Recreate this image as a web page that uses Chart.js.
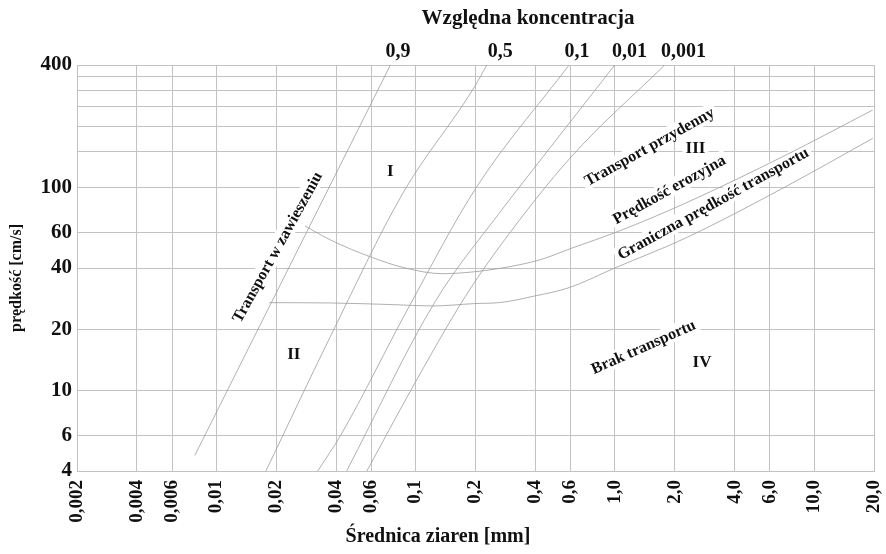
<!DOCTYPE html>
<html>
<head>
<meta charset="utf-8">
<script src="https://cdn.jsdelivr.net/npm/chart.js@4/dist/chart.umd.min.js"></script>
<style>
html, body { margin: 0; padding: 0; background: #fff; }
</style>
</head>
<body>
<canvas id="c" width="886" height="554"></canvas>
<script>
// tick positions and labels
const xTicks = [0.002, 0.004, 0.006, 0.01, 0.02, 0.04, 0.06, 0.1, 0.2, 0.4, 0.6, 1, 2, 4, 6, 10, 20];
const xTickLabels = ['0,002', '0,004', '0,006', '0,01', '0,02', '0,04', '0,06', '0,1', '0,2', '0,4', '0,6', '1,0', '2,0', '4,0', '6,0', '10,0', '20,0'];
const yTicks = [4, 6, 10, 20, 40, 60, 100, 150, 200, 250, 300, 350, 400];
const yTickLabels = ['4', '6', '10', '20', '40', '60', '100', '', '', '', '', '', '400'];

// relative concentration lines: grain diameter [mm] / velocity [cm/s]
const concLabels = ['0,9', '0,5', '0,1', '0,01', '0,001'];
const concLabelD = [0.0817, 0.266, 0.647, 1.185, 2.21];
const conc09D = [0.0078, 0.0748];
const conc09V = [4.77, 400];
const conc05D = [0.01775, 0.0374, 0.086, 0.196, 0.228];
const conc05V = [4, 18.4, 92.7, 308, 400];
const conc01D = [0.0323, 0.0421, 0.0926, 0.2, 0.59];
const conc01V = [4, 6, 25.7, 98.3, 400];
const conc001D = [0.0451, 0.1254, 0.272, 0.411, 1.0];
const conc001V = [4, 27.3, 77.7, 131, 400];
const conc0001D = [0.057, 0.0956, 0.178, 0.272, 0.6, 1.78];
const conc0001V = [4, 10.15, 29, 53, 140, 400];

// erosion velocity and limiting transport velocity
const erosionD = [0.0279, 0.0374, 0.0608, 0.0888, 0.1364, 0.196, 0.272, 0.421, 0.612, 1.047, 2.26, 7.12, 19.7];
const erosionV = [64.4, 55, 45, 40, 37.5, 38.3, 40, 43.9, 50.2, 60.7, 83.4, 143, 240];
const transportD = [0.01842, 0.0374, 0.0775, 0.121, 0.196, 0.272, 0.389, 0.59, 1.0, 2.26, 7.12, 19.7];
const transportV = [27, 26.9, 26.4, 26.0, 26.7, 27.1, 29, 32, 40, 56.1, 100, 174];

// region labels placed in data units
const areaLabels = [
    { text: 'Transport w zawieszeniu', d: 0.0202, v: 50.8, angle: -61, size: 16 },
    { text: 'I', d: 0.0747, v: 121, angle: 0, size: 17 },
    { text: 'II', d: 0.0245, v: 15.2, angle: 0, size: 17 },
    { text: 'III', d: 2.54, v: 156, angle: 0, size: 17 },
    { text: 'IV', d: 2.74, v: 13.9, angle: 0, size: 17 },
    { text: 'Transport przydenny', d: 1.49, v: 159, angle: -29, size: 16 },
    { text: 'Prędkość erozyjna', d: 1.87, v: 97.7, angle: -29, size: 16 },
    { text: 'Graniczna prędkość transportu', d: 3.11, v: 83.4, angle: -29, size: 16 },
    { text: 'Brak transportu', d: 1.39, v: 16.4, angle: -24, size: 16 }
];

const serif = "'Liberation Serif', 'Times New Roman', serif";
const curveColor = '#9c9c9c';
const gridColor = '#c2c2c2';

function series(label, ds, vs) {
    return {
        label,
        data: ds.map((d, i) => ({ x: d, y: vs[i] })),
        borderColor: curveColor,
        borderWidth: 0.8,
        pointRadius: 0,
        showLine: true,
        fill: false,
        cubicInterpolationMode: 'monotone'
    };
}

const textPlugin = {
    id: 'texts',
    beforeDatasetsDraw(chart) {
        const ctx = chart.ctx;
        const xs = chart.scales.x, ys = chart.scales.y;
        areaLabels.forEach(l => {
            const px = xs.getPixelForValue(l.d);
            const py = ys.getPixelForValue(l.v);
            ctx.save();
            ctx.translate(px, py);
            ctx.rotate(l.angle * Math.PI / 180);
            ctx.font = `bold ${l.size}px ${serif}`;
            const w = ctx.measureText(l.text).width;
            ctx.fillStyle = '#fff';
            ctx.fillRect(-w / 2 - 3, -l.size * 0.55, w + 6, l.size * 1.1);
            ctx.fillStyle = '#111';
            ctx.textAlign = 'center';
            ctx.textBaseline = 'middle';
            ctx.fillText(l.text, 0, 1);
            ctx.restore();
        });
    },
    afterDraw(chart) {
        const ctx = chart.ctx;
        const xs = chart.scales.x;
        ctx.save();
        ctx.fillStyle = '#111';
        ctx.textAlign = 'center';
        ctx.textBaseline = 'middle';
        ctx.font = `bold 21px ${serif}`;
        ctx.fillText('Względna koncentracja', 528, 19);
        ctx.font = `bold 20px ${serif}`;
        concLabels.forEach((t, i) => {
            ctx.fillText(t, xs.getPixelForValue(concLabelD[i]), 52);
        });
        ctx.fillText('Średnica ziaren [mm]', 438, 537);
        ctx.translate(17, 278);
        ctx.rotate(-Math.PI / 2);
        ctx.font = `bold 16px ${serif}`;
        ctx.fillText('prędkość [cm/s]', 0, 0);
        ctx.restore();
    }
};

new Chart(document.getElementById('c'), {
    type: 'scatter',
    data: {
        datasets: [
            series('0,9', conc09D, conc09V),
            series('0,5', conc05D, conc05V),
            series('0,1', conc01D, conc01V),
            series('0,01', conc001D, conc001V),
            series('0,001', conc0001D, conc0001V),
            series('Prędkość erozyjna', erosionD, erosionV),
            series('Graniczna prędkość transportu', transportD, transportV)
        ]
    },
    options: {
        responsive: false,
        animation: false,
        devicePixelRatio: 1,
        layout: { padding: { top: 65, right: 12, bottom: 0, left: 0 } },
        plugins: {
            legend: { display: false },
            tooltip: { enabled: false }
        },
        scales: {
            x: {
                type: 'logarithmic',
                min: 0.002,
                max: 20,
                afterBuildTicks: s => { s.ticks = xTicks.map(v => ({ value: v })); },
                afterFit: s => {
                    s.height = 83;
                    s.paddingLeft = 0;
                    s.paddingRight = 0;
                },
                ticks: {
                    autoSkip: false,
                    minRotation: 90,
                    maxRotation: 90,
                    padding: 9,
                    color: '#111',
                    font: { family: serif, size: 19, weight: 'bold' },
                    callback: (v, i) => xTickLabels[i]
                },
                grid: { color: gridColor, lineWidth: 1, drawTicks: false },
                border: { color: gridColor }
            },
            y: {
                type: 'logarithmic',
                min: 4,
                max: 400,
                afterBuildTicks: s => { s.ticks = yTicks.map(v => ({ value: v })); },
                afterFit: s => {
                    s.width = 77;
                    s.paddingTop = 0;
                    s.paddingBottom = 0;
                },
                ticks: {
                    autoSkip: false,
                    padding: 5,
                    color: '#111',
                    font: { family: serif, size: 21, weight: 'bold' },
                    callback: (v, i) => yTickLabels[i]
                },
                grid: { color: gridColor, lineWidth: 1, drawTicks: false },
                border: { color: gridColor }
            }
        }
    },
    plugins: [textPlugin]
});
</script>
</body>
</html>
